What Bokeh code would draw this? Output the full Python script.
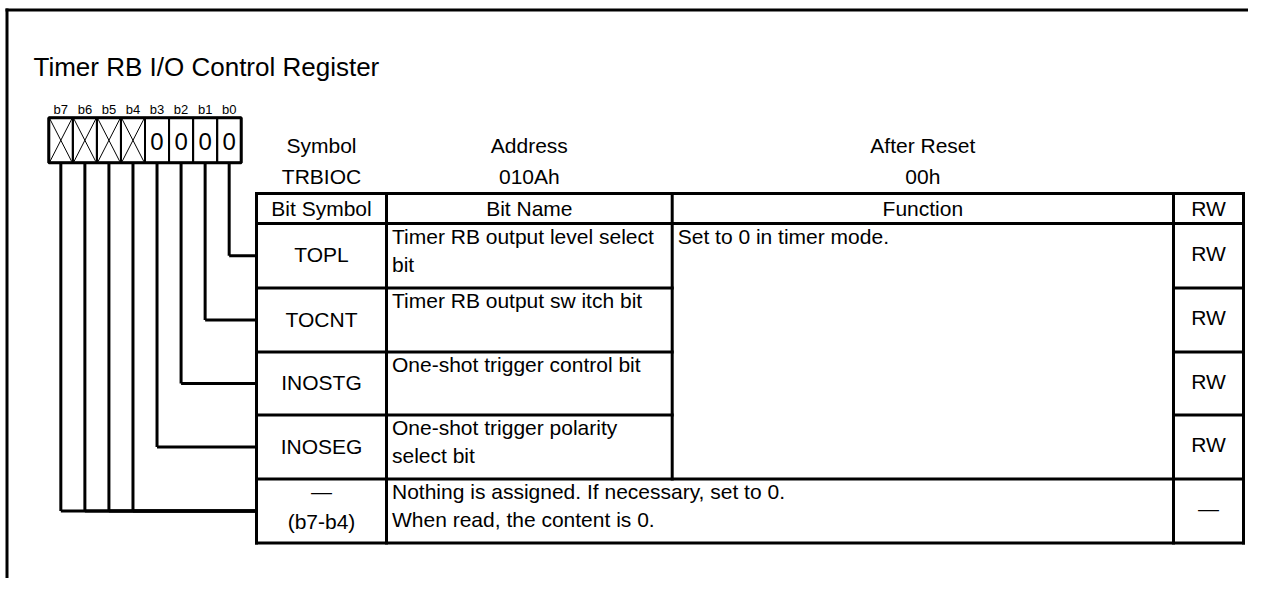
from bokeh.plotting import figure
from bokeh.models import Range1d
from bokeh.core.properties import value
from bokeh.embed import file_html
from bokeh.resources import INLINE

# ---------------- data ----------------
title_text = "Timer RB I/O Control Register"
bit_labels = ["b7", "b6", "b5", "b4", "b3", "b2", "b1", "b0"]
bit_values = ["X", "X", "X", "X", "0", "0", "0", "0"]   # "X" = not assigned
bit_field = [4, 4, 4, 4, 3, 2, 1, 0]                    # table row each bit belongs to
info_labels = ["Symbol", "Address", "After Reset"]
info_values = ["TRBIOC", "010Ah", "00h"]
column_titles = ["Bit Symbol", "Bit Name", "Function", "RW"]
field_symbols = ["TOPL", "TOCNT", "INOSTG", "INOSEG", "\u2014\n(b7-b4)"]
field_names = [
    "Timer RB output level select\nbit",
    "Timer RB output sw itch bit",
    "One-shot trigger control bit",
    "One-shot trigger polarity\nselect bit",
    "Nothing is assigned. If necessary, set to 0.\nWhen read, the content is 0.",
]
field_function = ["Set to 0 in timer mode.", "", "", "", ""]
field_rw = ["RW", "RW", "RW", "RW", "\u2014"]

# ---------------- layout ----------------
FONT = value("Liberation Sans")
BODY = 21
W, H = 1248, 578
p = figure(width=W, height=H, x_range=Range1d(0, W), y_range=Range1d(H, 0),
           output_backend="svg", toolbar_location=None, min_border=0,
           x_axis_location=None, y_axis_location=None)
p.grid.visible = False
p.outline_line_color = None
p.background_fill_color = "white"
p.border_fill_color = "white"


def put_text(x, y, text, size, align):
    # y is the wanted baseline; compensate the renderer's baseline placement
    off = 0.35 * size
    p.text(x=x, y=[v - off for v in y], text=text, text_font=FONT,
           text_font_size=f"{size}px", text_align=align,
           text_baseline="alphabetic", text_color="black")


# outer frame (top and left only)
p.segment(x0=[5, 6.5], y0=[9.5, 8], x1=[W, 6.5], y1=[9.5, H],
          line_width=3, line_color="black")

# title
put_text([33], [76], [title_text], 26, "left")

# bit boxes
bx0, bw, by0, by1 = 48.3, 24.05, 117.3, 162.3
n = len(bit_labels)
cx = [bx0 + bw * (i + 0.5) for i in range(n)]
put_text(cx, [114] * n, bit_labels, 13, "center")
p.quad(left=[bx0 + bw * i for i in range(n)], right=[bx0 + bw * (i + 1) for i in range(n)],
       top=[by0] * n, bottom=[by1] * n, fill_color=None, line_color="black", line_width=2)
p.quad(left=[bx0], right=[bx0 + bw * n], top=[by0], bottom=[by1],
       fill_color=None, line_color="black", line_width=3)
xs = [i for i, v in enumerate(bit_values) if v == "X"]
p.segment(x0=[bx0 + bw * i + 1 for i in xs] * 2,
          y0=[by0 + 1] * len(xs) + [by1 - 1] * len(xs),
          x1=[bx0 + bw * (i + 1) - 1 for i in xs] * 2,
          y1=[by1 - 1] * len(xs) + [by0 + 1] * len(xs),
          line_width=1, line_color="black")
zs = [i for i, v in enumerate(bit_values) if v != "X"]
put_text([cx[i] for i in zs], [149.5] * len(zs), [bit_values[i] for i in zs], 24, "center")

# table geometry
cols = [256, 386, 671.7, 1173, 1243]
rows = [193, 223, 287.5, 351.5, 414.5, 478.5, 542.5]
nf = len(field_symbols)
row_top = rows[1:-1]
row_bot = rows[2:]
row_mid = [(a + b) / 2 for a, b in zip(row_top, row_bot)]
col_mid = [(cols[i] + cols[i + 1]) / 2 for i in range(4)]

# connector lines
vx, vy0, vy1, hx0, hx1, hy = [], [], [], [], [], []
for i, f in enumerate(bit_field):
    vx.append(cx[i]); vy0.append(by1); vy1.append(row_mid[f])
    hx0.append(cx[i]); hx1.append(cols[0]); hy.append(row_mid[f])
p.segment(x0=vx, y0=vy0, x1=vx, y1=vy1, line_width=3, line_color="black")
p.segment(x0=hx0, y0=hy, x1=hx1, y1=hy, line_width=3, line_color="black")

# table lines
sx0, sy0, sx1, sy1 = [], [], [], []
def seg(a, b, c, d):
    sx0.append(a); sy0.append(b); sx1.append(c); sy1.append(d)
for y in (rows[0], rows[1], rows[-2], rows[-1]):
    seg(cols[0], y, cols[-1], y)
for y in rows[2:-2]:
    seg(cols[0], y, cols[2], y)
    seg(cols[3], y, cols[4], y)
for x in (cols[0], cols[1], cols[3], cols[4]):
    seg(x, rows[0], x, rows[-1])
seg(cols[2], rows[0], cols[2], rows[-2])
p.segment(x0=sx0, y0=sy0, x1=sx1, y1=sy1, line_width=3, line_color="black",
          line_cap="square")

# info above table
put_text(col_mid[:3], [152.5] * 3, info_labels, BODY, "center")
put_text(col_mid[:3], [183.5] * 3, info_values, BODY, "center")

# column titles
put_text(col_mid, [215] * 4, column_titles, BODY, "center")

# symbols (centered)
tx, ty, tt = [], [], []
for r, s in enumerate(field_symbols):
    lines = s.split("\n")
    for k, ln in enumerate(lines):
        if len(lines) == 1:
            yy = row_mid[r] + 6.5
        else:
            yy = row_mid[r] + 2.5 + (k - (len(lines) - 1) / 2) * 30
        tx.append(col_mid[0]); ty.append(yy); tt.append(ln)
put_text(tx, ty, tt, BODY, "center")

# bit names and function (left aligned, top)
lx, ly, lt = [], [], []
for r, s in enumerate(field_names):
    for k, ln in enumerate(s.split("\n")):
        lx.append(cols[1] + 5.5); ly.append(row_top[r] + 20 + k * 28); lt.append(ln)
for r, s in enumerate(field_function):
    if s:
        lx.append(cols[2] + 5.5); ly.append(row_top[r] + 20); lt.append(s)
put_text(lx, ly, lt, BODY, "left")

# RW column
put_text([col_mid[3]] * nf, [m + 5 for m in row_mid], field_rw, BODY, "center")

open("out.html", "w").write(file_html(p, INLINE))
